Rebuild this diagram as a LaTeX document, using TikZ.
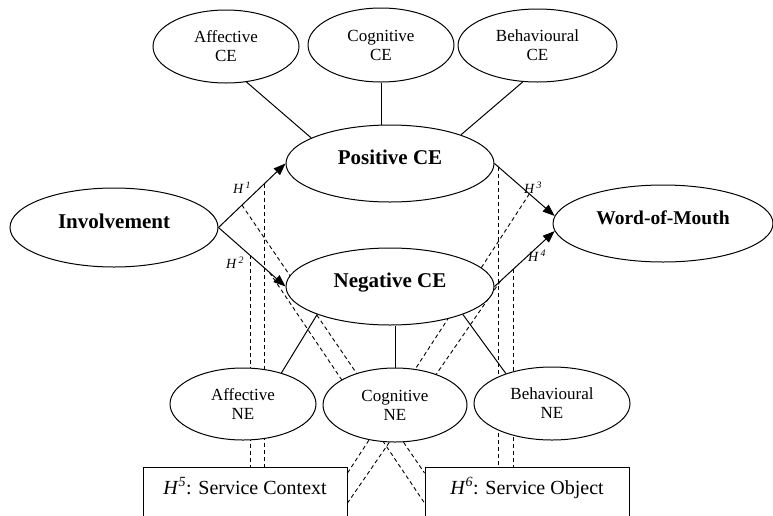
\documentclass[tikz,border=0pt]{standalone}
\usepackage{fontspec}
\setmainfont{Liberation Serif}
\usepackage{tikz}
\usetikzlibrary{arrows.meta,positioning,calc,shapes.geometric,backgrounds}

\tikzset{
  dimen/.style={draw,ellipse,fill=white,inner sep=0pt,align=center,line width=1pt,
    font=\fontsize{17}{19}\selectfont},
  construct/.style={draw,ellipse,fill=white,inner sep=0pt,line width=1pt,
    font=\fontsize{21}{24}\selectfont\bfseries,text height=14pt,text depth=13pt},
  modbox/.style={draw,fill=white,anchor=north,line width=1pt,minimum width=204pt,
    inner ysep=12.5pt,text height=14pt,text depth=40pt,font=\fontsize{20}{24}\selectfont},
  hyp/.style={-{Triangle[length=12pt,width=9pt]},line width=1pt},
  link/.style={line width=1pt},
  moder/.style={dash pattern=on 4pt off 3pt,line width=0.9pt},
  hlab/.style={font=\fontsize{14}{14}\selectfont\itshape}
}

\begin{document}
\begin{tikzpicture}[x=1pt,y=-1pt]
  \useasboundingbox (0,0) rectangle (773,515);
  \clip (0,0) rectangle (773,515);
  % dimensions of positive CE
  \node[dimen,minimum width=146pt,minimum height=73pt] (ace) at (226,46.5) {Affective\\CE};
  \node[dimen,minimum width=146pt,minimum height=74pt] (cce) at (381,45) {Cognitive\\CE};
  \node[dimen,minimum width=159pt,minimum height=73pt] (bce) at (537.5,45.5) {Behavioural\\CE};
  % main constructs
  \node[construct,minimum width=208pt,minimum height=77pt] (pce) at (390,163.5) {Positive CE};
  \node[construct,minimum width=208pt,minimum height=77pt] (nce) at (390,286.5) {Negative CE};
  \node[construct,minimum width=208pt,minimum height=79pt] (inv) at (114,227.5) {Involvement};
  \node[construct,minimum width=220pt,minimum height=77pt,
    font=\fontsize{19.5}{24}\selectfont\bfseries] (wom) at (663,223.5) {Word-of-Mouth};
  % dimensions of negative CE
  \node[dimen,minimum width=146pt,minimum height=72pt] (ane) at (243,404) {Affective\\NE};
  \node[dimen,minimum width=144pt,minimum height=74pt] (cne) at (395,405) {Cognitive\\NE};
  \node[dimen,minimum width=156pt,minimum height=73pt] (bne) at (552,403.5) {Behavioural\\NE};
  % moderators
  \node[modbox] (ctx) at (245,467) {\textit{H}\textsuperscript{\textit{5}}: Service Context};
  \node[modbox] (obj) at (527,467) {\textit{H}\textsuperscript{\textit{6}}: Service Object};

  % dimension links
  \draw[link] (ace.-60) -- (pce.162);
  \draw[link] (cce.south) -- (cce.south |- pce.north);
  \draw[link] (bce.-112) -- (pce.22);
  \draw[link] (nce.201) -- (ane.39);
  \draw[link] (cne.north) -- (cne.north |- nce.south);
  \draw[link] (nce.-21) -- (bne.147);

  % hypothesised paths
  \draw[hyp] (inv.east) -- (pce.west) coordinate[pos=0.35] (h1a) coordinate[pos=0.68] (h1v);
  \draw[hyp] (inv.east) -- (nce.west) coordinate[pos=0.47] (h2v) coordinate[pos=0.76] (h2a);
  \draw[hyp] (pce.east) -- (wom.176) coordinate[pos=0.07] (h3v) coordinate[pos=0.58] (h3a);
  \draw[hyp] (nce.east) -- (wom.184) coordinate[pos=0.10] (h4a) coordinate[pos=0.32] (h4v);
  \node[hlab] (l1) at (242,188) {H\,\textsuperscript{1}};
  \node[hlab] (l2) at (235,263) {H\,\textsuperscript{2}};
  \node[hlab] (l3) at (533,188) {H\,\textsuperscript{3}};
  \node[hlab] (l4) at (537,256) {H\,\textsuperscript{4}};

  % moderating effects, behind the ellipses
  \begin{scope}[on background layer]
    \draw[moder] (h1v) -- (h1v |- ctx.north);
    \draw[moder] (h2v) -- (h2v |- ctx.north);
    \draw[moder] (h3v) -- (h3v |- obj.north);
    \draw[moder] (h4v) -- (h4v |- obj.north);
    \draw[moder] (h1a) -- ($(obj.north west)+(0,6)$);
    \draw[moder] (h2a) -- ($(obj.north west)+(0,36)$);
    \draw[moder] (h3a) -- ($(ctx.north east)+(0,6)$);
    \draw[moder] (h4a) -- ($(ctx.north east)+(0,36)$);
  \end{scope}
\end{tikzpicture}
\end{document}
